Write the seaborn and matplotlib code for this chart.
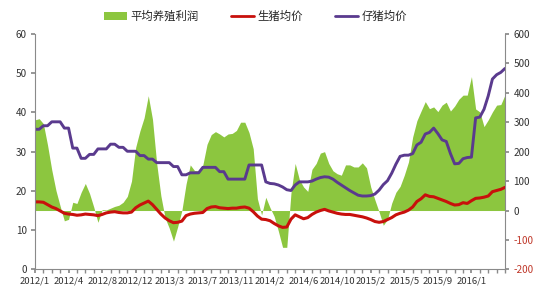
import numpy as np
import pandas as pd
import matplotlib
matplotlib.use("Agg")
import matplotlib.pyplot as plt
import seaborn as sns
from matplotlib.patches import Patch
from matplotlib.lines import Line2D

sns.set_theme(style="white")
plt.rcParams['font.family'] = ['Noto Sans CJK SC', 'DejaVu Sans']
plt.rcParams['axes.unicode_minus'] = False

# ---- data (biweekly samples, x = week index since 2012/1) ----
week = list(range(0, 225, 2))

profit = [308, 312, 295, 222, 138, 68, 15, -35, -30, 28, 24, 62, 92, 58, 12, -40,
          3, 2, 8, 14, 18, 28, 48, 100, 215, 270, 315, 390, 310, 160, 50, -25,
          -60, -104, -55, 0, 90, 155, 136, 135, 155, 225, 258, 268, 260, 250, 260, 262,
          272, 300, 300, 265, 210, 40, -15, 45, 10, -20, -70, -125, -125, 60, 160, 105,
          80, 65, 140, 160, 195, 200, 160, 135, 125, 120, 155, 155, 148, 148, 162, 145,
          80, 36, -5, -50, -30, 25, 62, 82, 120, 165, 250, 305, 338, 370, 346, 352,
          336, 358, 368, 338, 355, 378, 392, 392, 455, 345, 335, 285, 308, 335, 358, 360,
          393]

hog = [17.2, 17.2, 17.1, 16.5, 15.9, 15.5, 14.9, 14.3, 14.1, 14.0, 13.8, 13.9, 14.1, 14.0, 13.9, 13.7,
       14.0, 14.4, 14.6, 14.7, 14.5, 14.4, 14.4, 14.6, 15.7, 16.4, 16.9, 17.4, 16.5, 15.3, 14.1, 13.1,
       12.4, 11.9, 12.0, 12.3, 13.7, 14.1, 14.3, 14.4, 14.5, 15.5, 15.9, 16.0, 15.7, 15.6, 15.5, 15.6,
       15.6, 15.8, 15.9, 15.6, 14.7, 13.6, 12.8, 12.7, 12.4, 11.7, 11.1, 10.7, 10.8, 12.8, 13.9, 13.4,
       12.9, 13.2, 14.0, 14.6, 15.0, 15.3, 14.9, 14.6, 14.3, 14.1, 14.0, 14.0, 13.8, 13.6, 13.4, 13.1,
       12.7, 12.2, 12.0, 12.2, 12.7, 13.2, 13.9, 14.3, 14.6, 15.1, 15.9, 17.3, 18.0, 19.0, 18.6, 18.5,
       18.1, 17.7, 17.3, 16.8, 16.4, 16.5, 17.0, 16.8, 17.5, 18.1, 18.2, 18.4, 18.7, 19.8, 20.1, 20.4,
       20.9]

piglet = [35.7, 35.7, 36.6, 36.6, 37.6, 37.6, 37.6, 36.0, 36.0, 30.9, 30.9, 28.3, 28.3, 29.3, 29.3, 30.7,
          30.7, 30.7, 31.9, 31.9, 31.1, 31.1, 30.1, 30.1, 30.1, 29.0, 29.0, 28.1, 28.1, 27.2, 27.2, 27.2,
          27.2, 26.2, 26.2, 24.1, 24.1, 24.6, 24.6, 24.6, 26.0, 26.0, 26.0, 26.0, 24.9, 24.9, 23.0, 23.0,
          23.0, 23.0, 23.0, 26.6, 26.6, 26.6, 26.6, 22.3, 21.9, 21.8, 21.5, 21.0, 20.3, 20.1, 21.5, 22.3,
          22.3, 22.3, 22.5, 23.0, 23.4, 23.6, 23.5, 23.0, 22.2, 21.5, 20.8, 20.1, 19.5, 18.9, 18.7, 18.7,
          18.8, 19.2, 20.2, 21.6, 22.6, 24.5, 26.8, 28.8, 29.1, 29.1, 29.5, 31.7, 32.4, 34.5, 34.9, 36.0,
          34.6, 33.0, 32.6, 29.5, 26.9, 27.0, 28.2, 28.5, 28.6, 38.6, 38.8, 40.8, 44.2, 48.5, 49.6, 50.2,
          51.2]

tick_labels = ["2012/1", "2012/4", "2012/8", "2012/12", "2013/3", "2013/7", "2013/11",
               "2014/2", "2014/6", "2014/10", "2015/2", "2015/5", "2015/9", "2016/1"]

series_names = ["平均养殖利润", "生猪均价", "仔猪均价"]
c_green = "#8cc63f"
c_red = "#c8100c"
c_purple = "#5a3a8e"

df = pd.DataFrame({"week": week, "profit": profit, "hog": hog, "piglet": piglet})

fig = plt.figure(figsize=(5.5, 3), dpi=100)
ax = fig.add_axes([0.0636, 0.102, 0.8546, 0.785])
ax2 = ax.twinx()

# area on right axis
ax2.fill_between(df["week"], 0, df["profit"], color=c_green, linewidth=0)
ax2.set_ylim(-200, 600)
ax2.set_yticks(range(-200, 601, 100))

# lines on left axis
sns.lineplot(data=df, x="week", y="hog", ax=ax, color=c_red, linewidth=2.2)
sns.lineplot(data=df, x="week", y="piglet", ax=ax, color=c_purple, linewidth=2.1)
ax.set_ylim(0, 60)
ax.set_yticks(range(0, 61, 10))
ax.set_xlim(0, 224)
ax.set_xlabel("")
ax.set_ylabel("")
ax2.set_ylabel("")

ax.set_zorder(ax2.get_zorder() + 1)
ax.patch.set_visible(False)

ax.set_xticks(list(range(0, 16 * len(tick_labels), 16)))
ax.set_xticklabels(tick_labels)
ax.set_xticks(list(range(0, 225, 4)), minor=True)

spine_c = "#8a8a8a"
for a in (ax, ax2):
    for s in a.spines.values():
        s.set_visible(False)
ax.spines["left"].set_visible(True)
ax.spines["bottom"].set_visible(True)
ax2.spines["right"].set_visible(True)
for s in (ax.spines["left"], ax.spines["bottom"], ax2.spines["right"]):
    s.set_color(spine_c)
    s.set_linewidth(0.8)

ax.tick_params(axis="x", which="both", direction="out", length=3, color=spine_c,
               labelsize=6.8, pad=2, bottom=True)
ax.tick_params(axis="y", which="both", direction="out", length=3, color=spine_c,
               labelsize=7.2, pad=3, left=True)
ax2.tick_params(axis="y", direction="out", length=3, color=spine_c,
                labelsize=7.2, pad=3, right=True)
for lab in ax.get_xticklabels() + ax.get_yticklabels() + ax2.get_yticklabels():
    lab.set_color("#333333")
for lab, v in zip(ax2.get_yticklabels(), range(-200, 601, 100)):
    if v < 0:
        lab.set_color("#c0392b")

handles = [Patch(facecolor=c_green, edgecolor="none"),
           Line2D([0], [0], color=c_red, linewidth=2),
           Line2D([0], [0], color=c_purple, linewidth=2)]
fig.legend(handles, series_names, loc="center", bbox_to_anchor=(0.465, 0.947), ncol=3,
           frameon=False, fontsize=8.2, handlelength=2.0, handleheight=0.7,
           columnspacing=2.8, handletextpad=0.35)

fig.savefig("out.png", dpi=100)
